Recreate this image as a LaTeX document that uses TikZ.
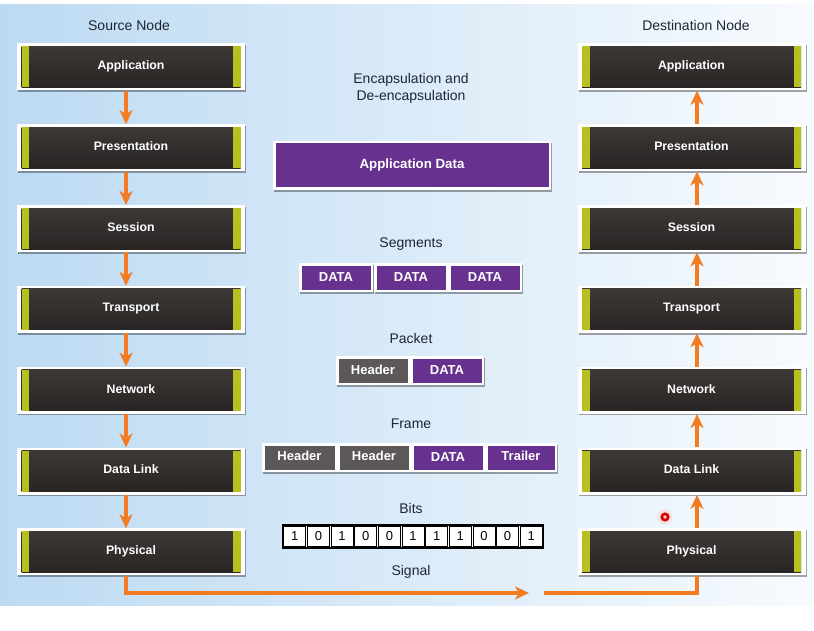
\documentclass[tikz,border=0pt]{standalone}
\usepackage{fontspec}
\setmainfont{Liberation Sans}
\usetikzlibrary{arrows.meta,shadows}

\definecolor{bgL}{HTML}{BCDAF2}
\definecolor{bgM}{HTML}{E3EFFA}
\definecolor{bgR}{HTML}{F8FBFE}
\definecolor{darkTop}{HTML}{3E3A38}
\definecolor{darkBot}{HTML}{272322}
\definecolor{stripe}{HTML}{B8C020}
\definecolor{pdu}{HTML}{67318F}
\definecolor{hdr}{HTML}{5C5858}
\definecolor{flowc}{HTML}{F37C22}
\definecolor{caption}{HTML}{1E2633}

\tikzset{
  boxshadow/.style={drop shadow={shadow xshift=1pt,shadow yshift=-1.6pt,opacity=.35,fill=black}},
  layer/.style={minimum width=228pt,minimum height=47pt,inner sep=0pt,fill=white,boxshadow,
    text=white,font=\bfseries\fontsize{12.3}{14}\selectfont,
    path picture={
      \fill[top color=darkTop,bottom color=darkBot]
        ([shift={(4.5pt,-3pt)}]path picture bounding box.north west) rectangle
        ([shift={(-4.5pt,3pt)}]path picture bounding box.south east);
      \fill[stripe]
        ([shift={(4.5pt,-3pt)}]path picture bounding box.north west) rectangle
        ([shift={(12pt,3pt)}]path picture bounding box.south west);
      \fill[stripe]
        ([shift={(-12pt,-3pt)}]path picture bounding box.north east) rectangle
        ([shift={(-4.5pt,3pt)}]path picture bounding box.south east);
    }},
  unit/.style={minimum height=29pt,inner sep=0pt,fill=white,boxshadow,
    text=white,font=\bfseries\fontsize{13}{15}\selectfont,
    path picture={
      \fill[#1]
        ([shift={(2.5pt,-2.5pt)}]path picture bounding box.north west) rectangle
        ([shift={(-2.5pt,2.5pt)}]path picture bounding box.south east);
    }},
  databox/.style={unit=pdu,minimum width=74pt},
  hdrbox/.style={unit=hdr,minimum width=74pt},
  caption/.style={text=caption,font=\fontsize{14}{17}\selectfont,align=center},
  flow/.style={draw=flowc,line width=3.6pt,-{Stealth[length=14pt,width=13pt,inset=4pt]}},
  flowline/.style={draw=flowc,line width=3.6pt},
  bitcell/.style={draw=black,line width=0.8pt,fill=white,minimum width=22pt,minimum height=20pt,
    inner sep=0pt,font=\fontsize{13}{15}\selectfont},
}

\begin{document}
\begin{tikzpicture}[x=1pt,y=-1pt]
\useasboundingbox (0,0) rectangle (814,631);
% backdrop
\shade[left color=bgL,middle color=bgM,right color=bgR] (0,5) rectangle (814,605);

% column titles
\node[caption] (srcT) at (129,25) {Source Node};
\node[caption] (dstT) at (696,25) {Destination Node};

% OSI layer stacks
\foreach \i/\name in {1/Application,2/Presentation,3/Session,4/Transport,5/Network,6/Data Link,7/Physical}{
  \node[layer] (l\i) at (131,{67+(\i-1)*80.83}) {\raisebox{3.5pt}{\name}};
  \node[layer] (r\i) at (691.5,{67+(\i-1)*80.83}) {\raisebox{3.5pt}{\name}};
}

% downward flow through the sender, upward through the receiver
\foreach \a/\b in {1/2,2/3,3/4,4/5,5/6,6/7}{
  \draw[flow] ([xshift=-5pt]l\a.south) -- ([xshift=-5pt]l\b.north);
  \draw[flow] ([xshift=5.5pt]r\b.north) -- ([xshift=5.5pt]r\a.south);
}

% signal across the medium
\coordinate (sigA) at (529,593);
\coordinate (sigB) at (544,593);
\draw[flow] ([xshift=-5pt]l7.south) |- (sigA);
\draw[flowline] (sigB) -| ([xshift=5.5pt]r7.south);

% encapsulation units
\node[caption] (encT) at (411,88) {Encapsulation and\\De-encapsulation};

\node[unit=pdu,minimum width=278pt,minimum height=49pt,font=\bfseries\fontsize{13.3}{15}\selectfont] (appd) at (412,165.5) {Application Data};

\node[caption] (segT) at (411,244) {Segments};
\node[databox] (seg1) at (336,277.5) {DATA};
\node[databox] (seg2) at (411,277.5) {DATA};
\node[databox] (seg3) at (485,277.5) {DATA};

\node[caption] (pktT) at (411,338) {Packet};
\node[hdrbox] (pkH) at (373,370.5) {\raisebox{2pt}{Header}};
\node[databox] (pkD) at (447,370.5) {DATA};

\node[caption] (frmT) at (411,424) {Frame};
\node[hdrbox,minimum width=75pt] (frH1) at (299.5,457.5) {\raisebox{2.5pt}{Header}};
\node[hdrbox] (frH2) at (374,457.5) {\raisebox{2.5pt}{Header}};
\node[databox] (frD) at (448,457.5) {DATA};
\node[databox,minimum width=72pt] (frT) at (521,457.5) {\raisebox{2.5pt}{Trailer}};

\node[caption] (bitT) at (411,508) {Bits};
\draw[line width=1.4pt,fill=white] (283,525) rectangle (543,548);
\foreach \k/\v in {1/1,2/0,3/1,4/0,5/0,6/1,7/1,8/1,9/0,10/0,11/1}{
  \node[bitcell] (b\k) at ({283+(\k-0.5)*260/11},536.5) {\v};
}

\node[caption] (sigT) at (411,572) {Signal};

% pointer mark
\fill[red!20,opacity=.5] (665,517) circle (7.5pt);
\fill[red!85!black] (665,517) circle (4.6pt);
\fill[red!15] (665,517) circle (1.8pt);
\end{tikzpicture}
\end{document}
